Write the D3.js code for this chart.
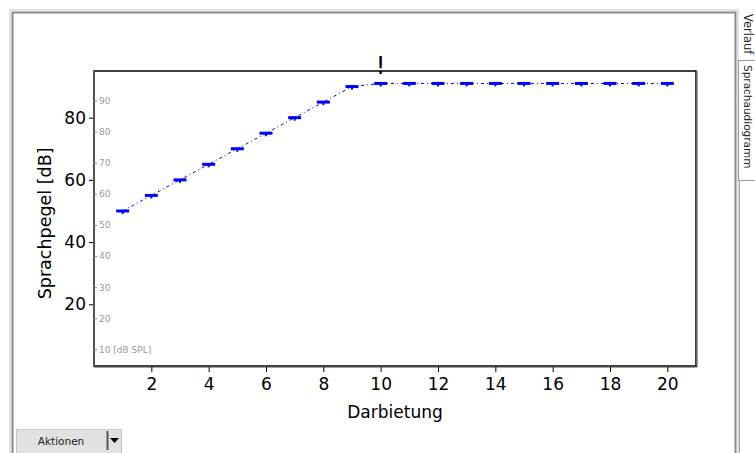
<!DOCTYPE html>
<html>
<head>
<meta charset="utf-8">
<script src="https://cdn.jsdelivr.net/npm/d3@7"></script>
<style>
  body { margin: 0; background: #ffffff; }
  svg text { font-family: "DejaVu Sans", Verdana, sans-serif; }
</style>
</head>
<body>
<div id="main"></div>
<script>
// Chart data
var presentations = d3.range(1, 21);
var levels = [50, 55, 60, 65, 70, 75, 80, 85, 90, 91, 91, 91, 91, 91, 91, 91, 91, 91, 91, 91];
var xTicks = [2, 4, 6, 8, 10, 12, 14, 16, 18, 20];
var yTicks = [20, 40, 60, 80];
var splTicks = [10, 20, 30, 40, 50, 60, 70, 80, 90];
var splOffset = 4.5;   // dB SPL = dB + offset
var warnAt = 10;       // the "!" marker

var svgWidth = 755;
var svgHeight = 453;
var plot = {l: 94, r: 696, t: 71, b: 366};

var svg = d3.select('#main')
  .append('svg')
  .attr('width', svgWidth)
  .attr('height', svgHeight);

// Window chrome: sunken frame
svg.append('rect').attr('x', 10).attr('y', 10).attr('width', 728).attr('height', 460)
  .attr('fill', 'none').attr('stroke', '#e3e3e3').attr('stroke-width', 2);
svg.append('rect').attr('x', 12.5).attr('y', 12.5).attr('width', 723).attr('height', 460)
  .attr('fill', '#ffffff').attr('stroke', '#8a8a8a').attr('stroke-width', 2);

// Side tabs
svg.append('line').attr('x1', 739.5).attr('x2', 739.5).attr('y1', 180).attr('y2', 453)
  .attr('stroke', '#a0a0a0');
svg.append('rect').attr('x', 738.5).attr('y', 60.5).attr('width', 20).attr('height', 120)
  .attr('fill', '#ffffff').attr('stroke', '#9a9a9a');
svg.append('text').text('Verlauf')
  .attr('transform', 'translate(744, 14) rotate(90)')
  .attr('font-size', 11.5).attr('fill', '#222');
svg.append('text').text('Sprachaudiogramm')
  .attr('transform', 'translate(744, 65) rotate(90)')
  .attr('font-size', 10.5).attr('fill', '#222');

// Scales
var xScale = d3.scaleLinear().domain([0, 21]).range([plot.l, plot.r]);
var yScale = d3.scaleLinear().domain([0, 95]).range([366.5, 71]);

// Plot box
svg.append('rect')
  .attr('x', plot.l).attr('y', plot.t)
  .attr('width', plot.r - plot.l).attr('height', plot.b - plot.t)
  .attr('fill', '#ffffff').attr('stroke', '#000').attr('stroke-width', 1.5);
svg.append('line').attr('x1', plot.r + 1).attr('x2', plot.r + 1).attr('y1', plot.t).attr('y2', plot.b + 1)
  .attr('stroke', '#777').attr('stroke-width', 1.5);
svg.append('line').attr('x1', plot.l).attr('x2', plot.r + 1).attr('y1', plot.b + 0.5).attr('y2', plot.b + 0.5)
  .attr('stroke', '#444').attr('stroke-width', 2);
svg.append('line').attr('x1', plot.l).attr('x2', plot.l).attr('y1', plot.t).attr('y2', plot.b)
  .attr('stroke', '#555').attr('stroke-width', 2);

// x-axis
var xAxis = d3.axisBottom(xScale).tickValues(xTicks).tickSize(5).tickPadding(6);
var gx = svg.append('g')
  .attr('transform', `translate(0, ${plot.b + 1})`)
  .call(xAxis);
gx.select('.domain').remove();
gx.selectAll('text').attr('font-size', 17).attr('fill', '#000')
  .attr('font-family', '"DejaVu Sans", Verdana, sans-serif');

// y-axis (dB)
var yAxis = d3.axisLeft(yScale).tickValues(yTicks).tickSize(4).tickPadding(3);
var gy = svg.append('g')
  .attr('transform', `translate(${plot.l - 1}, 0)`)
  .call(yAxis);
gy.select('.domain').remove();
gy.selectAll('text').attr('font-size', 17).attr('fill', '#000')
  .attr('font-family', '"DejaVu Sans", Verdana, sans-serif');

// inner gray dB SPL scale
var splScale = d3.scaleLinear()
  .domain([splOffset, 95 + splOffset]).range(yScale.range());
var gs = svg.append('g')
  .attr('transform', `translate(${plot.l}, 0)`)
  .call(d3.axisRight(splScale).tickValues(splTicks).tickSize(3).tickPadding(2)
    .tickFormat(function(d) { return d === 10 ? '10 [dB SPL]' : d; }));
gs.select('.domain').remove();
gs.selectAll('line').attr('stroke', '#888');
gs.selectAll('text').attr('font-size', 9).attr('fill', '#999')
  .attr('font-family', '"DejaVu Sans", Verdana, sans-serif');

// axis titles
svg.append('text').text('Darbietung')
  .attr('x', xScale(10.5)).attr('y', 418)
  .attr('text-anchor', 'middle').attr('font-size', 17).attr('fill', '#000');
svg.append('text').text('Sprachpegel [dB]')
  .attr('transform', `translate(51, ${yScale(46)}) rotate(-90)`)
  .attr('text-anchor', 'middle').attr('font-size', 17.5).attr('fill', '#000');

// warning mark
svg.append('text').text('!')
  .attr('x', xScale(warnAt)).attr('y', plot.t + 3)
  .attr('text-anchor', 'middle').attr('font-size', 24).attr('fill', '#000');

// data line
var points = presentations.map(function(p, i) { return [p, levels[i]]; });
svg.append('path')
  .datum(points)
  .attr('fill', 'none')
  .attr('stroke', '#0000ff')
  .attr('stroke-width', 1)
  .attr('stroke-dasharray', '3,3,1,3')
  .attr('d', d3.line()
    .x(function(d) { return xScale(d[0]); })
    .y(function(d) { return yScale(d[1]); }));

// markers: short thick bars with a small tick
var marks = svg.selectAll('.mark')
  .data(points)
  .enter()
  .append('g')
  .attr('class', 'mark')
  .attr('transform', function(d) {
    return `translate(${xScale(d[0])}, ${yScale(d[1])})`;
  });
marks.append('rect')
  .attr('x', -6.5).attr('y', -1.5).attr('width', 13).attr('height', 3)
  .attr('fill', '#0000ff');
marks.append('rect')
  .attr('x', -1).attr('y', 1).attr('width', 2).attr('height', 2)
  .attr('fill', '#0000ff');

// Aktionen button
svg.append('rect').attr('x', 16.5).attr('y', 429.5).attr('width', 105).attr('height', 24)
  .attr('fill', '#e1e1e1').attr('stroke', '#c8c8c8');
svg.append('text').text('Aktionen')
  .attr('x', 61).attr('y', 445)
  .attr('text-anchor', 'middle').attr('font-size', 10.5).attr('fill', '#222');
svg.append('line').attr('x1', 107.5).attr('x2', 107.5).attr('y1', 431).attr('y2', 450)
  .attr('stroke', '#555').attr('stroke-width', 2);
svg.append('path').attr('d', 'M110,438 L119,438 L114.5,443 Z').attr('fill', '#000');
</script>
</body>
</html>
